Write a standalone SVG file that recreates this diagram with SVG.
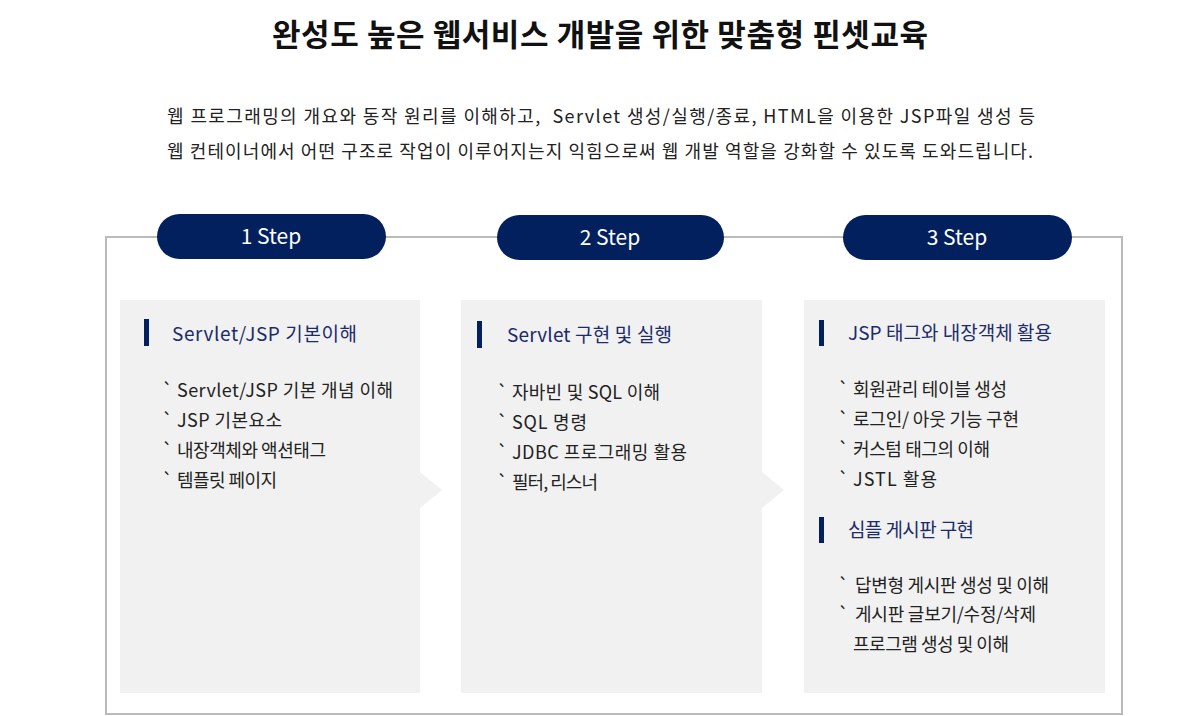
<svg xmlns="http://www.w3.org/2000/svg" width="1200" height="716" viewBox="0 0 1200 716">
<style>
text{font-family:"Noto Sans CJK KR","Noto Sans",sans-serif}
.title{font-size:31px;font-weight:700;fill:#111}
.desc{font-size:18px;fill:#222}
.pill{fill:#03205e}
.pilltxt{font-size:21px;fill:#fff;text-anchor:middle}
.panel{fill:#f1f1f1}
.bar{fill:#03205e}
.head{font-size:19px;fill:#1b2b6b}
.item{font-size:18px;fill:#222}
.frame{fill:none;stroke:#bbb;stroke-width:2}
</style>
<rect width="1200" height="716" fill="#fff"/>
<text class="title" x="272" y="46" textLength="656">완성도 높은 웹서비스 개발을 위한 맞춤형 핀셋교육</text>
<text class="desc" x="167" y="123" textLength="868" xml:space="preserve">웹 프로그래밍의 개요와 동작 원리를 이해하고,  Servlet 생성/실행/종료, HTML을 이용한 JSP파일 생성 등</text>
<text class="desc" x="167" y="158" textLength="866">웹 컨테이너에서 어떤 구조로 작업이 이루어지는지 익힘으로써 웹 개발 역할을 강화할 수 있도록 도와드립니다.</text>
<g id="connectors">
<rect class="frame" x="106" y="237" width="1016" height="477"/>
</g>
<g id="step1">
<rect class="pill" x="157" y="214" width="229" height="45" rx="22.5"/>
<text class="pilltxt" x="271" y="244">1 Step</text>
<path class="panel" d="M120 300H420V472L442 490L420 508V693H120Z"/>
<rect class="bar" x="144" y="319" width="5" height="27"/>
<text class="head" x="172" y="341" textLength="185">Servlet/JSP 기본이해</text>
<g class="item">
<text x="162" y="397">`</text><text x="177" y="397" textLength="216">Servlet/JSP 기본 개념 이해</text>
<text x="162" y="427">`</text><text x="177" y="427" textLength="105">JSP 기본요소</text>
<text x="162" y="457">`</text><text x="177" y="457" textLength="149">내장객체와 액션태그</text>
<text x="162" y="487">`</text><text x="177" y="487" textLength="100">템플릿 페이지</text>
</g>
</g>
<g id="step2">
<rect class="pill" x="497" y="215" width="227" height="45" rx="22.5"/>
<text class="pilltxt" x="610" y="245">2 Step</text>
<path class="panel" d="M461 300H762V472L784 490L762 508V693H461Z"/>
<rect class="bar" x="477" y="321" width="5" height="27"/>
<text class="head" x="507" y="342" textLength="165">Servlet 구현 및 실행</text>
<g class="item">
<text x="497" y="399">`</text><text x="512" y="399" textLength="148">자바빈 및 SQL 이해</text>
<text x="497" y="429">`</text><text x="512" y="429" textLength="75">SQL 명령</text>
<text x="497" y="459">`</text><text x="512" y="459" textLength="175">JDBC 프로그래밍 활용</text>
<text x="497" y="489">`</text><text x="512" y="489" textLength="86">필터, 리스너</text>
</g>
</g>
<g id="step3">
<rect class="pill" x="843" y="215" width="229" height="45" rx="22.5"/>
<text class="pilltxt" x="957" y="245">3 Step</text>
<rect class="panel" x="804" y="300" width="301" height="393"/>
<rect class="bar" x="819" y="320" width="5" height="26"/>
<text class="head" x="848" y="340" textLength="204">JSP 태그와 내장객체 활용</text>
<g class="item">
<text x="838" y="396">`</text><text x="853" y="396" textLength="154">회원관리 테이블 생성</text>
<text x="838" y="426">`</text><text x="853" y="426" textLength="166">로그인/ 아웃 기능 구현</text>
<text x="838" y="456">`</text><text x="853" y="456" textLength="137">커스텀 태그의 이해</text>
<text x="838" y="486">`</text><text x="853" y="486" textLength="84">JSTL 활용</text>
</g>
<rect class="bar" x="819" y="517" width="5" height="26"/>
<text class="head" x="848" y="537" textLength="126">심플 게시판 구현</text>
<g class="item">
<text x="838" y="592">`</text><text x="855" y="592" textLength="194">답변형 게시판 생성 및 이해</text>
<text x="838" y="621">`</text><text x="855" y="621" textLength="181">게시판 글보기/수정/삭제</text>
<text x="853" y="651" textLength="156">프로그램 생성 및 이해</text>
</g>
</g>
</svg>
